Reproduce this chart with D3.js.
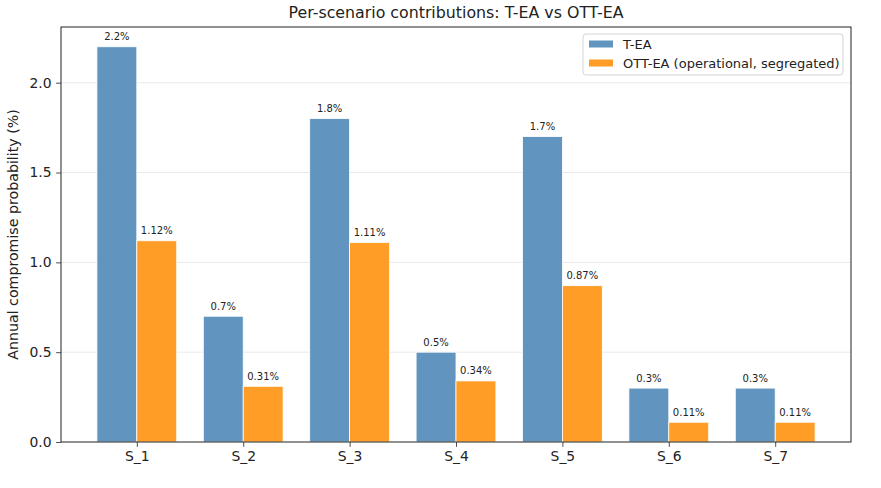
<!DOCTYPE html>
<html>
<head>
<meta charset="utf-8">
<script src="https://cdn.jsdelivr.net/npm/d3@7"></script>
<style>
  body { margin: 0; background: #fff; }
  svg { font-family: "DejaVu Sans", sans-serif; }
</style>
</head>
<body>
<svg id="chart" width="881" height="488"></svg>
<script>
// data
var scenarios = ["S_1", "S_2", "S_3", "S_4", "S_5", "S_6", "S_7"];
var teaValues = [2.2, 0.7, 1.8, 0.5, 1.7, 0.3, 0.3];
var ottValues = [1.12, 0.31, 1.11, 0.34, 0.87, 0.11, 0.11];
var seriesNames = ["T-EA", "OTT-EA (operational, segregated)"];
var yTicks = [0.0, 0.5, 1.0, 1.5, 2.0];

var colors = ["#6195bf", "#ff9d26"];
var barWidth = 0.375;

var plot = { left: 61, right: 851, top: 27, bottom: 442 };

var svg = d3.select("#chart");

// x in "index" units like matplotlib, with 5% margins
var lo = -barWidth, hi = scenarios.length - 1 + barWidth;
var pad = (hi - lo) * 0.05;
var x = d3.scaleLinear()
    .domain([lo - pad, hi + pad])
    .range([plot.left, plot.right]);

var y = d3.scaleLinear()
    .domain([0, 2.31])
    .range([plot.bottom, plot.top]);

// grid
svg.append("g")
    .selectAll("line")
    .data(yTicks.slice(1))
    .enter().append("line")
    .attr("x1", plot.left)
    .attr("x2", plot.right)
    .attr("y1", function(d) { return y(d); })
    .attr("y2", function(d) { return y(d); })
    .attr("stroke", "#e3e3e3")
    .attr("stroke-width", 0.8);

var series = [teaValues, ottValues];

series.forEach(function(vals, s)
{
    var offset = s === 0 ? -barWidth / 2 : barWidth / 2;
    var g = svg.append("g");

    g.selectAll("rect")
        .data(vals)
        .enter().append("rect")
        .attr("x", function(d, i) { return x(i + offset - barWidth / 2); })
        .attr("width", x(barWidth) - x(0))
        .attr("y", function(d) { return y(d); })
        .attr("height", function(d) { return y(0) - y(d); })
        .attr("fill", colors[s])
        .attr("stroke", "#fff")
        .attr("stroke-width", 0.8);

    g.selectAll("text")
        .data(vals)
        .enter().append("text")
        .attr("x", function(d, i) { return x(i + offset); })
        .attr("y", function(d) { return y(d) - 6.5; })
        .attr("text-anchor", "middle")
        .attr("font-size", "10px")
        .attr("fill", "#222")
        .text(function(d) { return s === 0 ? d.toFixed(1) + "%" : d.toFixed(2) + "%"; });
});

// axes
var xAxis = d3.axisBottom(x)
    .tickValues(d3.range(scenarios.length))
    .tickFormat(function(d) { return scenarios[d]; })
    .tickSize(4.9)
    .tickPadding(4.5);

var gx = svg.append("g")
    .attr("transform", "translate(0," + plot.bottom + ")")
    .call(xAxis);

var yAxis = d3.axisLeft(y)
    .tickValues(yTicks)
    .tickFormat(d3.format(".1f"))
    .tickSize(4.9)
    .tickPadding(4.5);

var gy = svg.append("g")
    .attr("transform", "translate(" + plot.left + ",0)")
    .call(yAxis);

[gx, gy].forEach(function(g)
{
    g.select(".domain").remove();
    g.selectAll("text")
        .attr("font-family", "DejaVu Sans, sans-serif")
        .attr("font-size", "13.9px")
        .attr("fill", "#222");
    g.selectAll("line").attr("stroke", "#222").attr("stroke-width", 0.8);
});

// frame
svg.append("rect")
    .attr("x", plot.left)
    .attr("y", plot.top)
    .attr("width", plot.right - plot.left)
    .attr("height", plot.bottom - plot.top)
    .attr("fill", "none")
    .attr("stroke", "#222")
    .attr("stroke-width", 1);

// title + y label
svg.append("text")
    .attr("x", (plot.left + plot.right) / 2)
    .attr("y", 18)
    .attr("text-anchor", "middle")
    .attr("font-size", "15.8px")
    .attr("fill", "#222")
    .text("Per-scenario contributions: T-EA vs OTT-EA");

svg.append("text")
    .attr("transform", "translate(18," + ((plot.top + plot.bottom) / 2) + ") rotate(-90)")
    .attr("text-anchor", "middle")
    .attr("font-size", "14.2px")
    .attr("fill", "#222")
    .text("Annual compromise probability (%)");

// legend
var legend = svg.append("g").attr("transform", "translate(583,34)");

legend.append("rect")
    .attr("width", 260)
    .attr("height", 41)
    .attr("rx", 3)
    .attr("fill", "#fff")
    .attr("fill-opacity", 0.8)
    .attr("stroke", "#d5d5d5");

seriesNames.forEach(function(name, i)
{
    var row = legend.append("g").attr("transform", "translate(0," + (10 + i * 19) + ")");
    row.append("rect")
        .attr("x", 6)
        .attr("y", -3.5)
        .attr("width", 24)
        .attr("height", 7)
        .attr("fill", colors[i]);
    row.append("text")
        .attr("x", 40)
        .attr("y", 0)
        .attr("dy", "0.35em")
        .attr("font-size", "13px")
        .attr("fill", "#222")
        .text(name);
});
</script>
</body>
</html>
